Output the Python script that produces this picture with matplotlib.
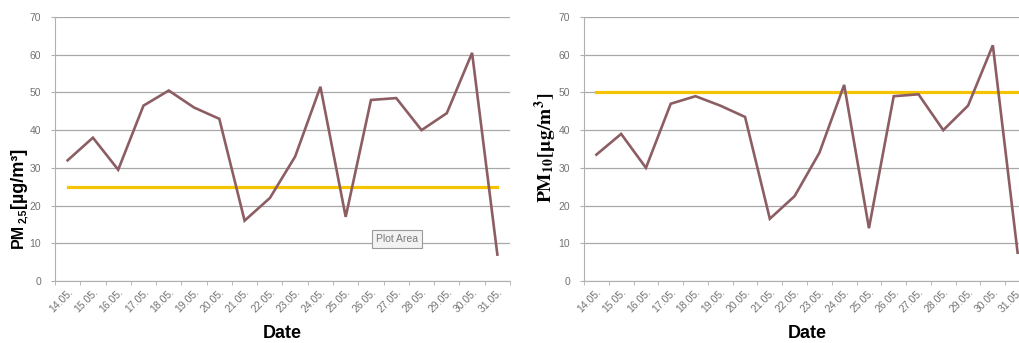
import matplotlib.pyplot as plt
import numpy as np

plt.rcParams['font.family'] = ['Liberation Sans', 'DejaVu Sans']

# Daily PM concentrations, 14.05. - 31.05.
dates = ['14.05.', '15.05.', '16.05.', '17.05.', '18.05.', '19.05.',
         '20.05.', '21.05.', '22.05.', '23.05.', '24.05.', '25.05.',
         '26.05.', '27.05.', '28.05.', '29.05.', '30.05.', '31.05.']
pm25 = [32, 38, 29.5, 46.5, 50.5, 46, 43, 16, 22, 33, 51.5, 17,
        48, 48.5, 40, 44.5, 60.5, 7]
pm10 = [33.5, 39, 30, 47, 49, 46.5, 43.5, 16.5, 22.5, 34, 52, 14,
        49, 49.5, 40, 46.5, 62.5, 7.5]
limit25 = 25  # daily limit PM2.5
limit10 = 50  # daily limit PM10

W, H = 1019, 343
fig = plt.figure(figsize=(W / 100, H / 100), dpi=100)

line_col = '#8c5e63'
limit_col = '#f5c400'
grey = '#727272'


def panel(rect, vals, limit):
    ax = fig.add_axes(rect)
    x = np.arange(len(dates))
    ax.plot(x, vals, color=line_col, lw=1.9, solid_joinstyle='miter', zorder=3)
    ax.plot([x[0], x[-1]], [limit, limit], color=limit_col, lw=2.3, zorder=2)
    ax.set_xlim(-0.5, len(dates) - 0.5)
    ax.set_ylim(0, 70)
    ax.set_yticks(range(0, 71, 10))
    ax.yaxis.grid(True, color='#a8a8a8', lw=0.9)
    ax.set_axisbelow(True)
    ax.set_xticks(x)
    ax.set_xticklabels(dates, rotation=45, ha='right', rotation_mode='anchor',
                       fontsize=7.5, color=grey)
    ax.set_xticks(np.arange(-0.5, len(dates)), minor=True)
    ax.tick_params(axis='x', which='major', length=0, pad=4)
    ax.tick_params(axis='x', which='minor', length=3, color='#b0b0b0')
    ax.tick_params(axis='y', length=3, color='#b0b0b0', labelsize=7.5,
                   labelcolor=grey, pad=7)
    for s in ['top', 'right']:
        ax.spines[s].set_visible(False)
    for s in ['left', 'bottom']:
        ax.spines[s].set_color('#b0b0b0')
    return ax


top, bot = 17, 281
panel([55 / W, (H - bot) / H, 455 / W, (bot - top) / H], pm25, limit25)
panel([584 / W, (H - bot) / H, 446 / W, (bot - top) / H], pm10, limit10)

# left y label built from pieces: "PM", subscript "2,5", unit
lab = dict(rotation=90, rotation_mode='anchor', ha='left', va='baseline',
           fontweight='bold', family='Liberation Sans')
fig.text(23 / W, 1 - 248 / H, 'PM', fontsize=11.5, **lab)
fig.text(26 / W, 1 - 223 / H, '2,5', fontsize=7.5, **lab)
fig.text(23 / W, 1 - 208 / H, '[µg/m³]', fontsize=13, **lab)

fig.text(546 / W, 1 - 148 / H, r'$\mathbf{PM_{10}[\mu g/m^3]}$',
         rotation=90, ha='center', va='center', fontsize=14,
         math_fontfamily='stix')

fig.text(282 / W, 1 - 334 / H, 'Date', ha='center', va='center',
         fontsize=13, fontweight='bold')
fig.text(807 / W, 1 - 334 / H, 'Date', ha='center', va='center',
         fontsize=13, fontweight='bold')

fig.text(397 / W, 1 - 239 / H, 'Plot Area', ha='center', va='center',
         fontsize=7.5, color='#7a7a7a',
         bbox=dict(boxstyle='square,pad=0.4', fc='#f2f2f2', ec='#9a9a9a', lw=0.8))

fig.savefig('out.png', dpi=100)
